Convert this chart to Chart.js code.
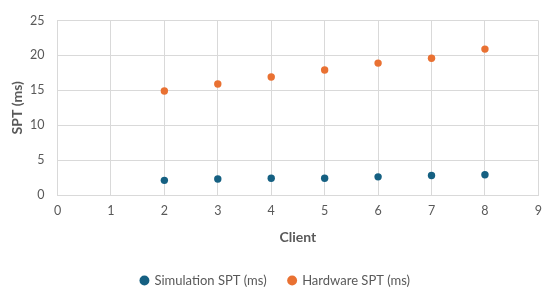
<!DOCTYPE html>
<html>
<head>
<meta charset="utf-8">
<script src="https://cdn.jsdelivr.net/npm/chart.js@4.4.1/dist/chart.umd.min.js"></script>
<style>
  html, body { margin: 0; padding: 0; background: #fff; }
  #wrap { width: 550px; height: 297px; position: relative; }
</style>
</head>
<body>
<div id="wrap"><canvas id="c" width="550" height="297"></canvas></div>
<script>
const clients = [2, 3, 4, 5, 6, 7, 8];
const simulationSPT = [2.1, 2.3, 2.4, 2.4, 2.6, 2.8, 2.9];
const hardwareSPT = [14.9, 15.9, 16.9, 17.9, 18.9, 19.6, 20.9];
const seriesNames = ['Simulation SPT (ms)', 'Hardware SPT (ms)'];
const xTitle = 'Client';
const yTitle = 'SPT (ms)';

const gray = '#595959';
const gridColor = '#d9d9d9';
const fontFamily = 'Lato, "Open Sans", sans-serif';

const toPoints = (xs, ys) => xs.map((x, i) => ({ x: x, y: ys[i] }));

new Chart(document.getElementById('c'), {
  type: 'scatter',
  data: {
    datasets: [
      {
        label: seriesNames[0],
        data: toPoints(clients, simulationSPT),
        backgroundColor: '#156082',
        borderColor: '#156082',
        pointRadius: 3.7,
        pointHoverRadius: 3.7,
        borderWidth: 0
      },
      {
        label: seriesNames[1],
        data: toPoints(clients, hardwareSPT),
        backgroundColor: '#E97132',
        borderColor: '#E97132',
        pointRadius: 3.7,
        pointHoverRadius: 3.7,
        borderWidth: 0
      }
    ]
  },
  options: {
    responsive: false,
    animation: false,
    devicePixelRatio: 1,
    layout: { padding: { top: 18, right: 11, left: 12, bottom: 0 } },
    plugins: {
      tooltip: { enabled: false },
      legend: {
        position: 'bottom',
        labels: {
          usePointStyle: true,
          pointStyle: 'circle',
          boxWidth: 7,
          boxHeight: 7,
          padding: 22,
          color: gray,
          font: { family: fontFamily, size: 13 }
        }
      }
    },
    scales: {
      x: {
        type: 'linear',
        min: 0,
        max: 9,
        ticks: {
          stepSize: 1,
          color: gray,
          padding: 8,
          font: { family: fontFamily, size: 12.5 }
        },
        grid: { color: gridColor, lineWidth: 1, drawTicks: false },
        border: { color: gridColor, width: 1 },
        title: {
          display: true,
          text: xTitle,
          color: gray,
          font: { family: fontFamily, size: 14, weight: 'bold' },
          padding: { top: 4, bottom: 6 }
        },
        afterFit: (s) => { s.height = 57; }
      },
      y: {
        min: 0,
        max: 25,
        ticks: {
          stepSize: 5,
          color: gray,
          padding: 13,
          font: { family: fontFamily, size: 12.5 }
        },
        grid: { color: gridColor, lineWidth: 1, drawTicks: false },
        border: { color: gridColor, width: 1 },
        title: {
          display: true,
          text: yTitle,
          color: gray,
          font: { family: fontFamily, size: 14, weight: 'bold' },
          padding: { top: -3, bottom: 0 }
        },
        afterFit: (s) => { s.width = 45.5; }
      }
    }
  }
});
</script>
</body>
</html>
